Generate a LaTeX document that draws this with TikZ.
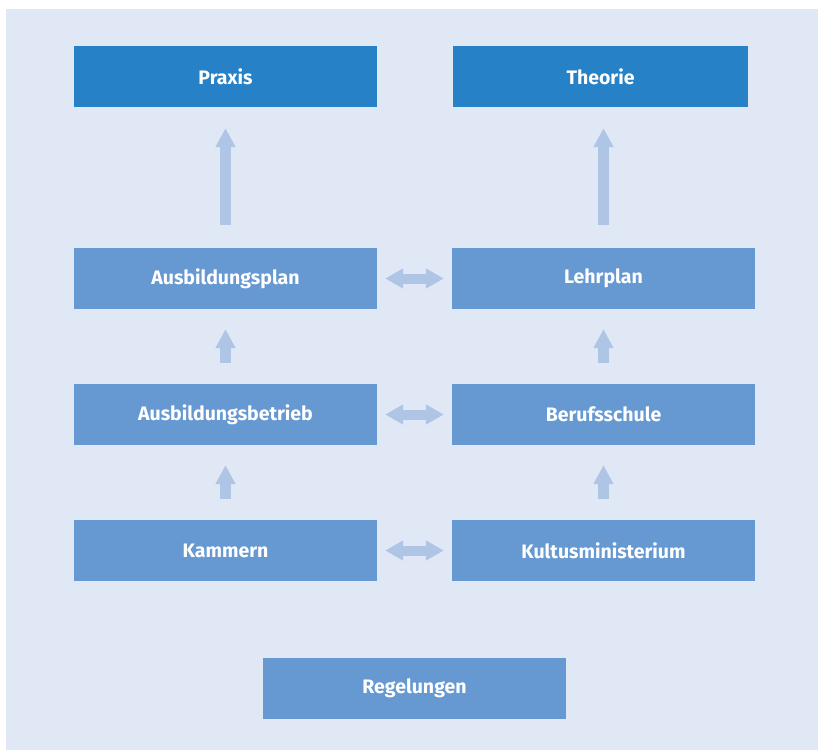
\documentclass[tikz,border=0pt]{standalone}
\usepackage{fontspec}
\setmainfont{Fira Sans}
\usetikzlibrary{arrows.meta}
\definecolor{bgc}{HTML}{E1E8F5}
\definecolor{darkbox}{HTML}{2681C6}
\definecolor{midbox}{HTML}{6699D1}
\definecolor{arrc}{HTML}{AEC5E6}
\begin{document}
\begin{tikzpicture}[x=1pt,y=-1pt,
  box/.style={fill=midbox,draw=none,minimum width=303pt,minimum height=61pt,inner sep=0pt,
    text=white,font=\fontsize{19.5}{22}\selectfont\bfseries},
  topbox/.style={box,fill=darkbox},
  uparr/.style={draw=arrc,line width=11pt,-{Triangle[length=19pt,width=19pt]}},
  lrarr/.style={draw=arrc,line width=10pt,{Triangle[length=18pt,width=19pt]}-{Triangle[length=18pt,width=19pt]}}]
\useasboundingbox (0,0) rectangle (818,750);
\fill[white] (0,0) rectangle (818,750);
\fill[bgc] (6,9) rectangle (818,750);
\node[topbox,minimum width=303pt] (praxis) at (225.5,76.5) {Praxis};
\node[topbox,minimum width=295pt] (theorie) at (600.5,76.5) {Theorie};
\node[box] (aplan) at (225.5,278.5) {Ausbildungsplan};
\node[box] (lplan) at (603.5,278.5) {Lehrplan};
\node[box] (abetr) at (225.5,414.5) {Ausbildungsbetrieb};
\node[box] (bschule) at (603.5,414.5) {Berufsschule};
\node[box] (kammern) at (225.5,550.5) {Kammern};
\node[box] (kultus) at (603.5,550.5) {Kultusministerium};
\node[box] (regel) at (414.5,688.5) {Regelungen};
\draw[uparr] ([yshift=23pt]aplan.north) -- ([yshift=-21pt]praxis.south);
\draw[uparr] ([yshift=23pt]lplan.north) -- ([yshift=-21pt]theorie.south -| lplan.north);
\draw[uparr] ([yshift=21pt]abetr.north) -- ([yshift=-20pt]aplan.south);
\draw[uparr] ([yshift=21pt]bschule.north) -- ([yshift=-20pt]lplan.south);
\draw[uparr] ([yshift=21pt]kammern.north) -- ([yshift=-20pt]abetr.south);
\draw[uparr] ([yshift=21pt]kultus.north) -- ([yshift=-20pt]bschule.south);
\draw[lrarr] ([xshift=8pt]aplan.east) -- ([xshift=-8pt]lplan.west);
\draw[lrarr] ([xshift=8pt]abetr.east) -- ([xshift=-8pt]bschule.west);
\draw[lrarr] ([xshift=8pt]kammern.east) -- ([xshift=-8pt]kultus.west);
\end{tikzpicture}
\end{document}
